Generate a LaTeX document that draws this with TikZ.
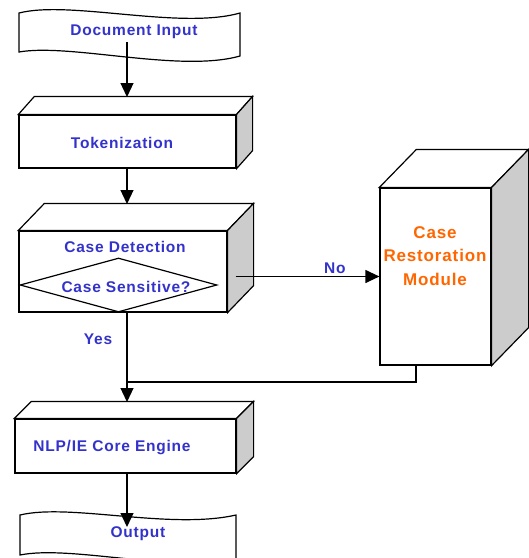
\documentclass[tikz,border=0pt]{standalone}
\usepackage{fontspec}
\setmainfont{Liberation Sans}[LetterSpace=5]
\usetikzlibrary{arrows.meta,shapes.geometric}
\definecolor{txtblue}{RGB}{51,51,204}
\definecolor{txtorange}{RGB}{255,102,0}
\definecolor{sidegray}{RGB}{204,204,204}
\begin{document}
\begin{tikzpicture}[x=1pt, y=-1pt,
    blk/.style={draw, line width=1.2pt, fill=white, inner sep=0pt},
    txt/.style={text=txtblue, font=\bfseries\fontsize{15.5}{18}\selectfont, inner sep=0pt},
    mod/.style={text=txtorange, font=\bfseries\fontsize{17}{23.5}\selectfont, align=center, inner sep=0pt},
    arr/.style={line width=1.2pt, -{Triangle[width=13pt,length=14pt]}}]
	\useasboundingbox (0,0) rectangle (529,558);
	\clip (0,0) rectangle (529,558);
	% tapes
	\draw[line width=1.2pt, fill=white] (19,13) .. controls (70,0) and (180,30) .. (240,13) -- (240,56)
		.. controls (180,73) and (70,43) .. (19,52) -- cycle;
	\draw[line width=1.2pt, fill=white] (20,515) .. controls (70,503) and (170,530) .. (236,515) -- (236,560)
		.. controls (170,572) and (70,545) .. (20,555) -- cycle;
	% boxes
	\node[blk, minimum width=217pt, minimum height=53pt] (tok) at (127.5,141.5) {};
	\node[blk, minimum width=208pt, minimum height=81pt] (det) at (123,271.5) {};
	\node[blk, minimum width=111pt, minimum height=177pt] (rest) at (435.5,276.5) {};
	\node[blk, minimum width=221pt, minimum height=54pt] (nlp) at (125.5,446) {};
	\foreach \n/\dx/\dy in {tok/16/18, det/26/27, rest/37/38, nlp/17/17} {
		\draw[line width=1.2pt, fill=white] (\n.north west) -- ([shift={(\dx,-\dy)}]\n.north west)
			-- ([shift={(\dx,-\dy)}]\n.north east) -- (\n.north east) -- cycle;
		\draw[line width=1.2pt, fill=sidegray] (\n.north east) -- ([shift={(\dx,-\dy)}]\n.north east)
			-- ([shift={(\dx,-\dy)}]\n.south east) -- (\n.south east) -- cycle;
	}
	\node[draw, diamond, aspect=3.65, line width=1.2pt, minimum width=197pt, minimum height=54pt, inner sep=0pt] (sens) at (118.5,285) {};
	% texts
	\node[txt] (inp) at (134,32) {Document Input};
	\node[txt] (tokt) at (122,143) {Tokenization};
	\node[txt] (dett) at (125,247) {Case Detection};
	\node[txt] (senst) at (126,287) {Case Sensitive?};
	\node[mod] (restt) at (435,256) {Case\\Restoration\\Module};
	\node[txt] (nlpt) at (112,448) {NLP/IE Core Engine};
	\node[txt] (out) at (138,534) {Output};
	\node[txt] (yes) at (98,339) {Yes};
	% connectors
	\coordinate (inp-out) at (127,42);
	\coordinate (tok-in) at (127,97);
	\coordinate (det-in) at (127,204);
	\coordinate (join) at (127,382);
	\coordinate (nlp-in) at (127,402);
	\coordinate (out-in) at (127,527);
	\draw[arr] (inp-out) -- (tok-in);
	\draw[arr] (tok.south -| tok-in) -- (det-in);
	\draw[arr] ([xshift=8pt]det.east |- rest.west) -- node[txt, above=2pt, pos=0.69] (no) {No} (rest.west);
	\draw[line width=1.2pt] ([xshift=-19.5pt]rest.south) |- (join);
	\draw[arr] (det.south -| join) -- (join) -- (nlp-in);
	\draw[arr] (nlp.south -| nlp-in) -- (out-in);
\end{tikzpicture}
\end{document}
